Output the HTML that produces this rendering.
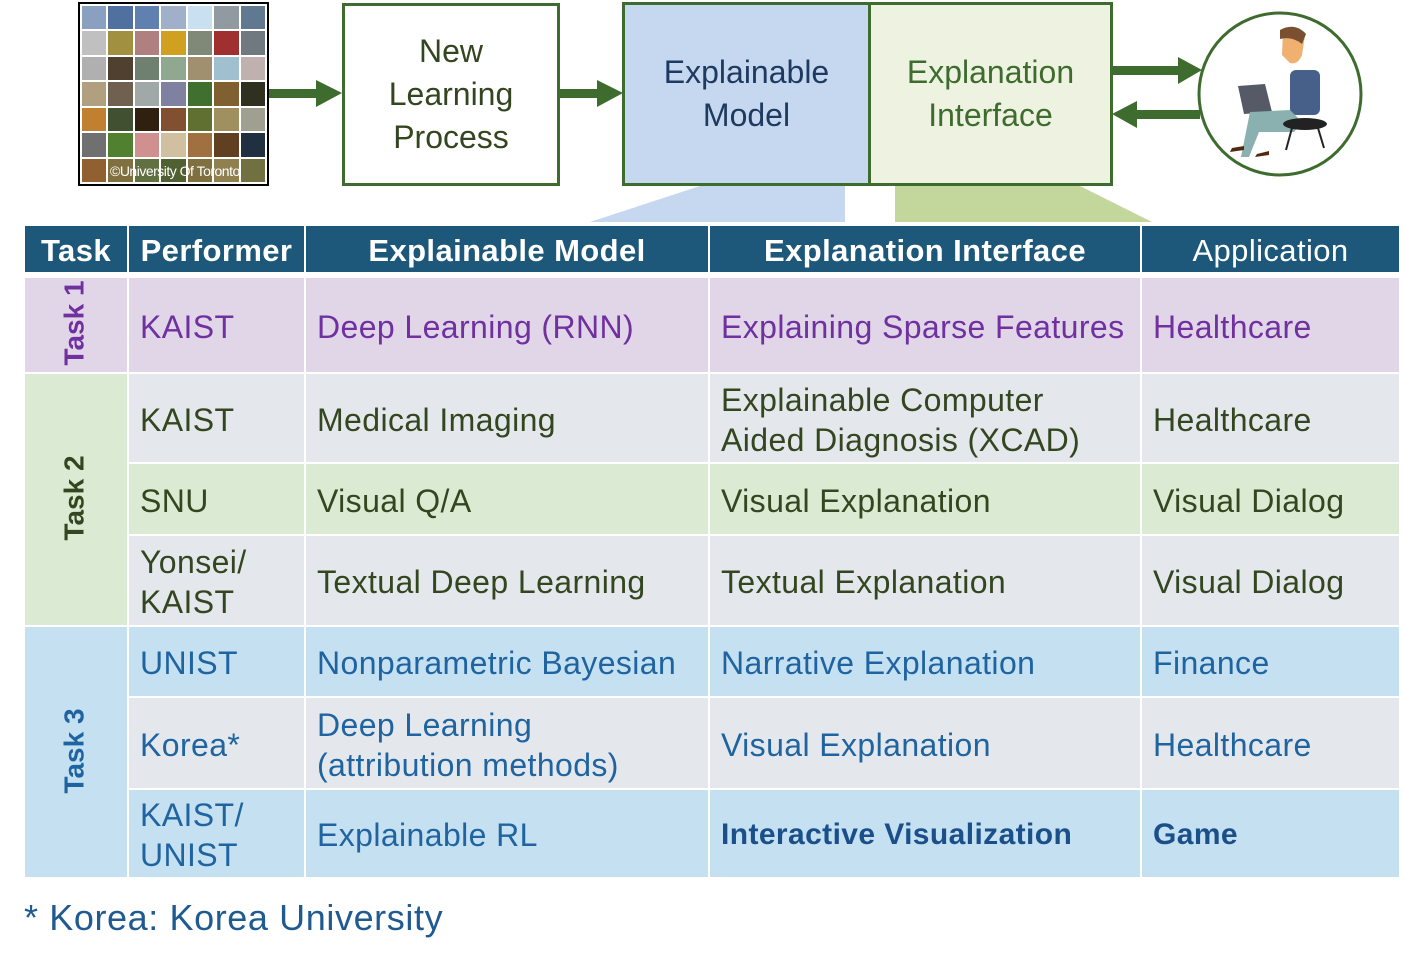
<!DOCTYPE html><html><head><meta charset="utf-8"><style>
body{margin:0;width:1405px;height:963px;background:#fff;position:relative;overflow:hidden;font-family:"Liberation Sans","DejaVu Sans",sans-serif}
.a{position:absolute;box-sizing:border-box}
.c{position:absolute;box-sizing:border-box;display:flex;align-items:center;padding-left:11px;padding-top:3px;font-size:32px;line-height:40px;letter-spacing:0.4px}
.h{background:#1d5779;color:#fff;font-weight:bold;justify-content:center;padding:3px 0 0 0;font-size:31px}
.p{background:#e0d6e8;color:#7030a0}.g{background:#e4e8ec;color:#34461f}.gr{background:#dbead3;color:#34461f}.b{background:#c4e0f1;color:#1f64a0}
.v{position:absolute;transform:rotate(-90deg);font-weight:bold;font-size:28px;white-space:nowrap}
</style></head><body>
<div class="a" style="left:78px;top:2px;width:191px;height:184px;border:2px solid #000;display:grid;grid-template-columns:repeat(7,1fr);gap:2px;padding:2px;background:#fff">
<div style="background:#8aa0c0"></div><div style="background:#5070a0"></div><div style="background:#6080b0"></div><div style="background:#a0b0c8"></div><div style="background:#c8e0f0"></div><div style="background:#909aa0"></div><div style="background:#607890"></div>
<div style="background:#c0c0c0"></div><div style="background:#a09040"></div><div style="background:#b08080"></div><div style="background:#d0a020"></div><div style="background:#808878"></div><div style="background:#a03030"></div><div style="background:#707880"></div>
<div style="background:#b0b0b0"></div><div style="background:#504030"></div><div style="background:#708070"></div><div style="background:#90a890"></div><div style="background:#a09070"></div><div style="background:#a0c0d0"></div><div style="background:#c0b0b0"></div>
<div style="background:#b0a080"></div><div style="background:#706050"></div><div style="background:#a0a8a8"></div><div style="background:#8080a0"></div><div style="background:#407030"></div><div style="background:#806030"></div><div style="background:#303020"></div>
<div style="background:#c08030"></div><div style="background:#405030"></div><div style="background:#302010"></div><div style="background:#805030"></div><div style="background:#607030"></div><div style="background:#a09060"></div><div style="background:#a0a090"></div>
<div style="background:#707070"></div><div style="background:#508030"></div><div style="background:#d09090"></div><div style="background:#d0c0a0"></div><div style="background:#a07040"></div><div style="background:#604020"></div><div style="background:#203040"></div>
<div style="background:#906030"></div><div style="background:#807040"></div><div style="background:#607040"></div><div style="background:#506030"></div><div style="background:#807040"></div><div style="background:#908050"></div><div style="background:#707040"></div>
</div>
<div class="a" style="left:110px;top:163px;color:#fff;font-size:14px;letter-spacing:-0.5px">©University Of Toronto</div>
<svg class="a" style="left:0;top:0" width="1405" height="230">
<polygon points="700,186 845,186 845,222 590,222" fill="#c5d8ef"/>
<polygon points="895,186 1080,186 1152,222 895,222" fill="#c3d69b"/>
<g fill="#3e6b2e"><rect x="269" y="89" width="50" height="9"/><polygon points="316,80 342,93 316,107"/>
<rect x="560" y="89" width="40" height="9"/><polygon points="597,80 623,93 597,107"/>
<rect x="1112" y="66" width="70" height="9"/><polygon points="1178,57 1202,70 1178,84"/>
<rect x="1136" y="110" width="64" height="9"/><polygon points="1112,114 1137,101 1137,128"/></g>
<circle cx="1280" cy="94" r="81" fill="#fff" stroke="#3e6b2e" stroke-width="3"/>
<path d="M1283 30 q12 -4 22 5 l-3 20 q-4 10 -12 8 l-8 -8z" fill="#f0b070"/><path d="M1280 30 q15 -8 26 4 l-4 10 q-10 -8 -22 -5z" fill="#7a5030"/>
<rect x="1290" y="70" width="30" height="45" rx="6" fill="#46608a"/>
<polygon points="1238,86 1265,84 1272,112 1244,114" fill="#555a66"/>
<path d="M1250 112 l40 -2 l12 12 l-8 10 l-35 0 l-10 25 l-8 0z" fill="#8ab0b0"/>
<ellipse cx="1305" cy="124" rx="22" ry="6" fill="#222"/><path d="M1292 128 l-6 22 M1318 128 l6 20" stroke="#222" stroke-width="2"/>
<path d="M1232 148 l12 -2 l0 4 l-14 2z M1257 154 l12 -3 l0 4 l-14 2z" fill="#502a10"/>
</svg>
<div class="a" style="left:342px;top:3px;width:218px;height:183px;border:3px solid #3e6b2e;display:flex;align-items:center;justify-content:center;text-align:center;color:#34461f;font-size:32px;line-height:43px">New<br>Learning<br>Process</div>
<div class="a" style="left:622px;top:2px;width:249px;height:184px;border:3px solid #3e6b2e;background:#c5d8ef;display:flex;align-items:center;justify-content:center;text-align:center;color:#1f3a60;font-size:32px;line-height:43px">Explainable<br>Model</div>
<div class="a" style="left:868px;top:2px;width:245px;height:184px;border:3px solid #3e6b2e;background:#eef3e1;display:flex;align-items:center;justify-content:center;text-align:center;color:#3e6b2e;font-size:32px;line-height:43px">Explanation<br>Interface</div>

<div class="c h" style="left:25px;top:226px;width:102px;height:46px">Task</div>
<div class="c h" style="left:129px;top:226px;width:175px;height:46px">Performer</div>
<div class="c h" style="left:306px;top:226px;width:402px;height:46px">Explainable Model</div>
<div class="c h" style="left:710px;top:226px;width:430px;height:46px">Explanation Interface</div>
<div class="c h" style="left:1142px;top:226px;width:257px;height:46px;font-weight:normal">Application</div>

<div class="c p" style="left:25px;top:278px;width:102px;height:94px"></div><div class="v" style="left:32px;top:307px;color:#7030a0">Task 1</div>
<div class="c gr" style="left:25px;top:374px;width:102px;height:251px"></div><div class="v" style="left:32px;top:482px;color:#34461f">Task 2</div>
<div class="c b" style="left:25px;top:627px;width:102px;height:250px"></div><div class="v" style="left:32px;top:735px;color:#1f64a0">Task 3</div>

<div class="c p" style="left:129px;top:278px;width:175px;height:94px">KAIST</div>
<div class="c p" style="left:306px;top:278px;width:402px;height:94px">Deep Learning (RNN)</div>
<div class="c p" style="left:710px;top:278px;width:430px;height:94px">Explaining Sparse Features</div>
<div class="c p" style="left:1142px;top:278px;width:257px;height:94px">Healthcare</div>

<div class="c g" style="left:129px;top:374px;width:175px;height:88px">KAIST</div>
<div class="c g" style="left:306px;top:374px;width:402px;height:88px">Medical Imaging</div>
<div class="c g" style="left:710px;top:374px;width:430px;height:88px">Explainable Computer<br>Aided Diagnosis (XCAD)</div>
<div class="c g" style="left:1142px;top:374px;width:257px;height:88px">Healthcare</div>

<div class="c gr" style="left:129px;top:464px;width:175px;height:70px">SNU</div>
<div class="c gr" style="left:306px;top:464px;width:402px;height:70px">Visual Q/A</div>
<div class="c gr" style="left:710px;top:464px;width:430px;height:70px">Visual Explanation</div>
<div class="c gr" style="left:1142px;top:464px;width:257px;height:70px">Visual Dialog</div>

<div class="c g" style="left:129px;top:536px;width:175px;height:89px">Yonsei/<br>KAIST</div>
<div class="c g" style="left:306px;top:536px;width:402px;height:89px">Textual Deep Learning</div>
<div class="c g" style="left:710px;top:536px;width:430px;height:89px">Textual Explanation</div>
<div class="c g" style="left:1142px;top:536px;width:257px;height:89px">Visual Dialog</div>

<div class="c b" style="left:129px;top:627px;width:175px;height:69px">UNIST</div>
<div class="c b" style="left:306px;top:627px;width:402px;height:69px">Nonparametric Bayesian</div>
<div class="c b" style="left:710px;top:627px;width:430px;height:69px">Narrative Explanation</div>
<div class="c b" style="left:1142px;top:627px;width:257px;height:69px">Finance</div>

<div class="c g" style="left:129px;top:698px;width:175px;height:90px;color:#1f64a0">Korea*</div>
<div class="c g" style="left:306px;top:698px;width:402px;height:90px;color:#1f64a0">Deep Learning<br>(attribution methods)</div>
<div class="c g" style="left:710px;top:698px;width:430px;height:90px;color:#1f64a0">Visual Explanation</div>
<div class="c g" style="left:1142px;top:698px;width:257px;height:90px;color:#1f64a0">Healthcare</div>

<div class="c b" style="left:129px;top:790px;width:175px;height:87px">KAIST/<br>UNIST</div>
<div class="c b" style="left:306px;top:790px;width:402px;height:87px">Explainable RL</div>
<div class="c b" style="left:710px;top:790px;width:430px;height:87px;font-weight:bold;font-size:30px;color:#1a4f8a">Interactive Visualization</div>
<div class="c b" style="left:1142px;top:790px;width:257px;height:87px;font-weight:bold;font-size:30px;color:#1a4f8a">Game</div>

<div class="a" style="left:24px;top:897px;font-size:36px;letter-spacing:0.6px;color:#1f5a90">* Korea: Korea University</div>
</body></html>
